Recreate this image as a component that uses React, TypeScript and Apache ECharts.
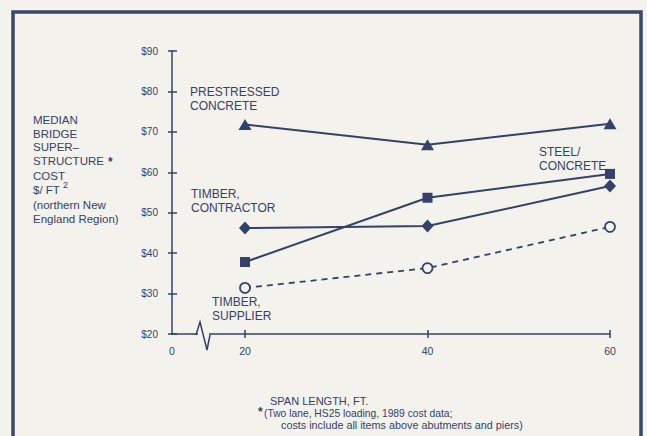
import React, { useEffect, useRef } from "react";
import * as echarts from "echarts";

const spans = [20, 40, 60];
const prestressedConcrete = [71.8, 66.8, 72.0];
const steelConcrete = [37.8, 53.7, 59.6];
const timberContractor = [46.2, 46.7, 56.6];
const timberSupplier = [31.4, 36.3, 46.5];
const xLabelValues = [12, 20, 40, 60];
const xTickValues = [20, 40, 60];

const INK = "#34416a";
const BG = "#f4f2ed";
const FONT = "'Liberation Sans', Arial, sans-serif";

function pair(ys: number[]) {
  return spans.map((x, i) => [x, ys[i]]);
}

export default function App() {
  const ref = useRef<HTMLDivElement>(null);
  useEffect(() => {
    if (!ref.current) return;
    const chart = echarts.init(ref.current, undefined, { renderer: "svg" });
    const txt = (x: number, y: number, text: string, size = 12, extra: any = {}) => ({
      type: "text",
      x,
      y,
      style: {
        text,
        fill: INK,
        font: `${size}px ${FONT}`,
        textVerticalAlign: "middle",
        ...extra,
      },
      z: 10,
    });
    const lineStyle = { color: INK, width: 2 };
    const baseX = {
      type: "value",
      min: 12,
      max: 60,
      splitLine: { show: false },
    };
    const baseY = {
      type: "value",
      min: 20,
      max: 90,
      interval: 10,
      splitLine: { show: false },
    };
    chart.setOption({
      animation: false,
      backgroundColor: BG,
      grid: { left: 172, right: 37, top: 51, bottom: 102 },
      xAxis: [
        {
          ...baseX,
          axisLine: { show: true, lineStyle: { color: INK, width: 1.5 } },
          axisTick: {
            show: true,
            length: 4,
            customValues: xTickValues,
            lineStyle: { color: INK, width: 1.5 },
          },
          axisLabel: {
            customValues: xLabelValues,
            formatter: (v: number) => (v === 12 ? "0" : String(v)),
            color: INK,
            fontSize: 10.5,
            fontFamily: FONT,
            margin: 11,
          },
        },
        {
          ...baseX,
          position: "bottom",
          axisLine: { show: false },
          axisTick: {
            show: true,
            inside: true,
            length: 4,
            customValues: xTickValues,
            lineStyle: { color: INK, width: 1.5 },
          },
          axisLabel: { show: false },
        },
      ],
      yAxis: [
        {
          ...baseY,
          axisLine: { show: true, lineStyle: { color: INK, width: 1.5 } },
          axisTick: { show: true, length: 4, lineStyle: { color: INK, width: 1.5 } },
          axisLabel: {
            color: INK,
            fontSize: 10,
            fontFamily: FONT,
            margin: 14,
            formatter: (v: number) => "$" + v,
          },
        },
        {
          ...baseY,
          position: "left",
          axisLine: { show: false },
          axisTick: {
            show: true,
            inside: true,
            length: 5,
            lineStyle: { color: INK, width: 1.5 },
          },
          axisLabel: { show: false },
        },
      ],
      series: [
        {
          name: "PRESTRESSED CONCRETE",
          type: "line",
          data: pair(prestressedConcrete),
          symbol: "triangle",
          symbolSize: [13, 11],
          lineStyle,
          itemStyle: { color: INK },
        },
        {
          name: "STEEL/CONCRETE",
          type: "line",
          data: pair(steelConcrete),
          symbol: "rect",
          symbolSize: 10,
          lineStyle,
          itemStyle: { color: INK },
        },
        {
          name: "TIMBER, CONTRACTOR",
          type: "line",
          data: pair(timberContractor),
          symbol: "diamond",
          symbolSize: [12, 13],
          lineStyle,
          itemStyle: { color: INK },
        },
        {
          name: "TIMBER, SUPPLIER",
          type: "line",
          data: pair(timberSupplier),
          symbol: "circle",
          symbolSize: 10,
          lineStyle: { color: INK, width: 1.8, type: [6, 5] },
          itemStyle: { color: BG, borderColor: INK, borderWidth: 1.7 },
        },
      ],
      graphic: [
        {
          type: "rect",
          shape: { x: 13, y: 12, width: 628, height: 440 },
          style: { fill: "none", stroke: "#3b4868", lineWidth: 3.5 },
        },
        {
          type: "rect",
          shape: { x: 198, y: 332, width: 11, height: 5 },
          style: { fill: BG },
          z: 20,
        },
        {
          type: "polyline",
          shape: { points: [[196, 335], [200, 322], [207, 350], [210, 335]] },
          style: { stroke: INK, lineWidth: 1.5, fill: "none" },
          z: 21,
        },
        txt(33, 120, "MEDIAN", 11.5),
        txt(33, 134, "BRIDGE", 11.5),
        txt(33, 147, "SUPER–", 11.5),
        txt(33, 161, "STRUCTURE", 11.5),
        txt(108, 162, "*", 14, { fontWeight: "bold" }),
        txt(33, 176, "COST", 11.5),
        txt(33, 190, "$/ FT", 11.5),
        txt(63, 185, "2", 9),
        txt(33, 205, "(northern New", 11.5),
        txt(33, 219, "England Region)", 11.5),
        txt(190, 92, "PRESTRESSED"),
        txt(190, 106, "CONCRETE"),
        txt(191, 194, "TIMBER,"),
        txt(191, 208, "CONTRACTOR"),
        txt(212, 302, "TIMBER,"),
        txt(212, 316, "SUPPLIER"),
        txt(539, 152, "STEEL/"),
        txt(539, 166, "CONCRETE"),
        txt(270, 401, "SPAN LENGTH, FT.", 11),
        txt(258, 412, "*", 12, { fontWeight: "bold" }),
        txt(264, 413, "(Two lane, HS25 loading, 1989 cost data;", 10.3),
        txt(281, 425, "costs include all items above abutments and piers)", 10.8),
      ],
    });
    return () => chart.dispose();
  }, []);
  return (
    <div
      ref={ref}
      style={{ position: "fixed", left: 0, top: 0, width: 647, height: 436 }}
    />
  );
}
